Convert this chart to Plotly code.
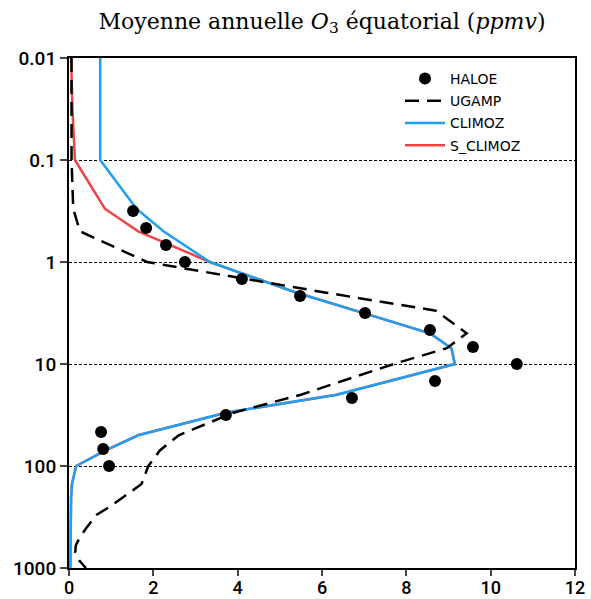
import plotly.graph_objects as go

# HALOE observations
haloe_x = [1.52, 1.83, 2.30, 2.75, 4.10, 5.48, 7.02, 8.56, 9.58, 10.62, 8.68, 6.71, 3.72, 0.76, 0.81, 0.95]
haloe_p = [0.316, 0.464, 0.681, 1.0, 1.47, 2.15, 3.16, 4.64, 6.81, 10.0, 14.7, 21.5, 31.6, 46.4, 68.1, 100.0]

# UGAMP model
ugamp_x = [0.06, 0.06, 0.10, 0.26, 1.85, 6.1, 8.70, 9.43, 8.96, 7.7, 5.5, 3.9, 2.6, 2.16, 1.88, 1.72, 1.30, 0.97, 0.66, 0.42, 0.26, 0.16, 0.15, 0.25, 0.40]
ugamp_p = [0.01, 0.1, 0.3, 0.5, 1, 2, 3, 5, 7, 10, 20, 30, 50, 70, 100, 150, 200, 250, 300, 400, 500, 600, 700, 850, 1000]

# CLIMOZ
climoz_x = [0.74, 0.74, 1.60, 2.24, 3.34, 5.40, 6.80, 8.56, 9.07, 9.15, 6.35, 3.72, 1.64, 0.88, 0.17, 0.07, 0.05, 0.03]
climoz_p = [0.01, 0.1, 0.3, 0.5, 1, 2, 3, 5, 7, 10, 20, 30, 50, 70, 100, 150, 200, 1000]

# S_CLIMOZ (upper part; merges with CLIMOZ below 1 hPa)
sclimoz_x = [0.05, 0.08, 0.14, 0.85, 1.64, 3.34, 5.40, 6.80, 8.56, 9.07, 9.15, 6.35, 3.72, 1.64, 0.88, 0.17, 0.07, 0.05, 0.03]
sclimoz_p = [0.01, 0.03, 0.1, 0.3, 0.5, 1, 2, 3, 5, 7, 10, 20, 30, 50, 70, 100, 150, 200, 1000]

x_ticks = [0, 2, 4, 6, 8, 10, 12]
y_ticks = [0.01, 0.1, 1, 10, 100, 1000]
y_tick_labels = ["0.01", "0.1", "1", "10", "100", "1000"]

BLUE = "#1E9FF0"
RED = "#F04545"

fig = go.Figure()
fig.add_trace(go.Scatter(x=sclimoz_x, y=sclimoz_p, mode="lines", name="S_CLIMOZ",
                         line=dict(color=RED, width=2.5), legendrank=4, legendgroup="d"))
fig.add_trace(go.Scatter(x=climoz_x, y=climoz_p, mode="lines", name="CLIMOZ",
                         line=dict(color=BLUE, width=2.5), legendrank=3, legendgroup="c"))
fig.add_trace(go.Scatter(x=ugamp_x, y=ugamp_p, mode="lines", name="UGAMP",
                         line=dict(color="black", width=2.5, dash="14px,8px"), legendrank=2, legendgroup="b"))
fig.add_trace(go.Scatter(x=haloe_x, y=haloe_p, mode="markers", name="HALOE",
                         marker=dict(color="black", size=12), legendrank=1, legendgroup="a"))

fig.update_layout(
    width=591, height=599,
    margin=dict(l=69, r=16, t=58, b=31, autoexpand=False),
    paper_bgcolor="white", plot_bgcolor="white",
    title=dict(text="Moyenne annuelle <i>O</i><sub>3</sub> équatorial (<i>ppmv</i>)",
               x=(69 + 575) / 2 / 591, xanchor="center", y=0.965, yanchor="middle",
               font=dict(family="DejaVu Serif", size=22, color="black")),
    legend=dict(x=(400 - 69) / 506, y=(568 - 63) / 510, xanchor="left", yanchor="top",
                bgcolor="rgba(0,0,0,0)",
                font=dict(family="DejaVu Sans", size=14, color="black"),
                tracegroupgap=1, itemwidth=40),
    showlegend=True,
)
fig.update_xaxes(range=[0, 12], tickvals=x_ticks, ticks="outside", ticklen=6, tickwidth=2,
                 showline=True, linewidth=2, linecolor="black", mirror=True,
                 showgrid=False, zeroline=False, automargin=False,
                 ticklabelstandoff=-4,
                 tickfont=dict(family="Roboto", size=18, color="black", weight=500))
fig.update_yaxes(type="log", range=[3, -2], tickvals=y_ticks, ticktext=y_tick_labels,
                 ticks="outside", ticklen=7, tickwidth=2,
                 showline=True, linewidth=2, linecolor="black", mirror=True,
                 showgrid=True, gridcolor="black", gridwidth=1, griddash="3px,2px",
                 zeroline=False, automargin=False,
                 tickfont=dict(family="Roboto", size=19, color="black", weight=500))

fig.write_html("out.html")
